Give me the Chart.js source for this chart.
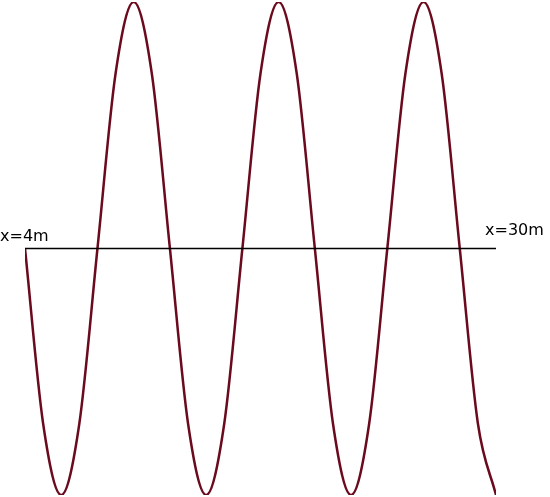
<!DOCTYPE html>
<html><head><meta charset="utf-8">
<script src="https://cdn.jsdelivr.net/npm/chart.js@4"></script>
<style>html,body{margin:0;padding:0;background:#fff}#w{width:550px;height:497px}</style>
</head><body><div id="w"><canvas id="c"></canvas></div>
<script>
const xs = [4,5,6,7,8,9,10,11,12,13,14,15,16,17,18,19,20,21,22,23,24,25,26,27,28,29,30];
const wave = [0,-0.71,-1,-0.71,0,0.71,1,0.71,0,-0.71,-1,-0.71,0,0.71,1,0.71,0,-0.71,-1,-0.71,0,0.71,1,0.71,0,-0.71,-1];
const axisX = [4,30];
const axisY = [0,0];
const labels = [{text:'x=4m',x:4,y:0,dx:-25,dy:-8,align:'left'},{text:'x=30m',x:30,y:0,dx:-11,dy:-14,align:'left'}];

const lbl = {id:'lbl',afterDatasetsDraw(ch){
  const c=ch.ctx, X=ch.scales.x, Y=ch.scales.y;
  c.save(); c.fillStyle='#000'; c.font='16px "DejaVu Sans"'; c.textBaseline='alphabetic';
  labels.forEach(l=>{c.textAlign=l.align;c.fillText(l.text,X.getPixelForValue(l.x)+l.dx,Y.getPixelForValue(l.y)+l.dy);});
  c.restore();
}};
new Chart(document.getElementById('c'),{
  type:'line',
  data:{datasets:[
    {data:axisX.map((x,i)=>({x,y:axisY[i]})),borderColor:'#000',borderWidth:1.5,pointRadius:0},
    {data:xs.map((x,i)=>({x,y:wave[i]})),borderColor:'#6a0a1c',borderWidth:2.5,pointRadius:0,cubicInterpolationMode:'monotone'}
  ]},
  options:{responsive:true,maintainAspectRatio:false,animation:false,
    layout:{padding:{left:25,right:54,top:2,bottom:2}},
    plugins:{legend:{display:false},tooltip:{enabled:false}},
    scales:{x:{type:'linear',min:4,max:30,display:false},y:{min:-1,max:1,display:false}}},
  plugins:[lbl]
});
</script></body></html>
